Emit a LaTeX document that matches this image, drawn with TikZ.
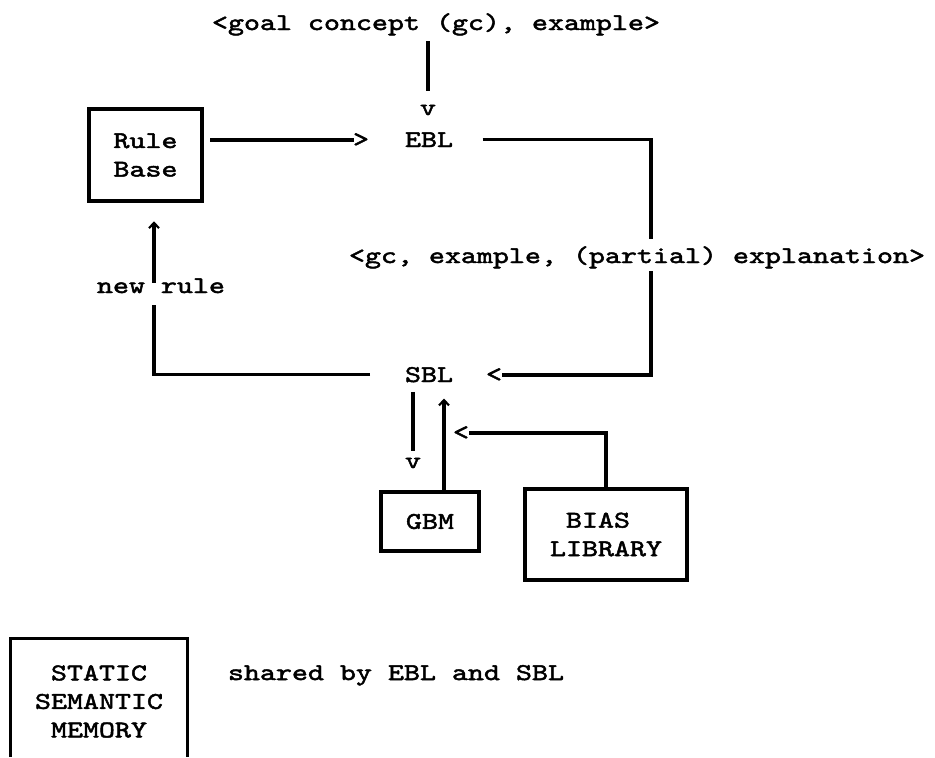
\documentclass[tikz,border=0pt]{standalone}
\usepackage{fontspec}
\newfontfamily\tw[Extension=.otf,FakeStretch=1.27,FakeBold=2]{lmmono10-regular}
\usetikzlibrary{arrows.meta}
\begin{document}
\begin{tikzpicture}[x=0.75pt,y=-0.75pt,
  every node/.style={font=\tw\fontsize{18pt}{21.4pt}\selectfont},
  txt/.style={anchor=base,inner sep=2pt},
  tchar/.style={anchor=center,inner sep=0pt},
  tbox/.style={draw,line width=2.4pt,inner sep=0pt,align=center},
  conn/.style={line width=2.3pt},
  uparr/.style={conn,-{Straight Barb[length=4pt,width=7.5pt,line width=1.6pt]}}
]
\fill[white] (0,0) rectangle (935,757);
\useasboundingbox (0,0) rectangle (935,757);
\coordinate (pb) at (0,757);

% nodes
\node[txt] (goal) at (436,30) {<goal concept (gc), example>};
\node[tchar] (vtop) at (428,110) {v};
\node[tbox, minimum width=84.75pt, minimum height=69pt] (rb) at (145.5,155) {Rule\\Base};
\node[tchar] (gt) at (361,140) {>};
\node[txt] (ebl) at (429,147) {EBL};
\node[txt] (gc) at (637,263) {<gc, example, (partial) explanation>};
\node[txt] (sbl) at (429,382) {SBL};
\node[tchar] (lt) at (494,375) {<};
\node[txt] (nr) at (161,293) {new rule};
\node[tchar] (vd) at (413,463) {v};
\node[tchar] (lb) at (461,433) {<};
\node[tbox, minimum width=73.5pt, minimum height=44.25pt] (gbm) at (430,521.5) {GBM};
\node[tbox, align=left, minimum width=121.5pt, minimum height=68.25pt] (bias) at (606,534.5) {\phantom{L}BIAS\\LIBRARY};
\node[inner sep=0pt, align=center, minimum width=132.75pt, minimum height=93.75pt] (ssm) at (99,701.5) {STATIC\\SEMANTIC\\MEMORY};
\node[txt] (shared) at (396,680) {shared by EBL and SBL};

% open box of the static semantic memory (its bottom lies below the page)
\draw[line width=2.4pt] (ssm.north west |- pb) -- (ssm.north west) -- (ssm.north east) -- (ssm.north east |- pb);

% connectors
\draw[conn, shorten <=2pt, shorten >=10pt] (goal.south -| vtop) -- (vtop.north);
\draw[conn, shorten <=5pt, shorten >=-1pt] (rb.east |- gt) -- (gt.west);
\coordinate (c1) at (651,139);
\draw[conn, shorten <=20pt, shorten >=3pt] (ebl.east) -- (ebl.east -| c1) -- (c1 |- gc.north);
\draw[conn] (gc.south -| c1) -- (c1 |- lt) -- (lt.east);
\coordinate (c2) at (154,374);
\draw[conn, shorten <=24pt, shorten >=7pt] (sbl.west) -- (sbl.west -| c2) -- (c2 |- nr.south);
\draw[uparr, shorten <=-5.5pt, shorten >=14pt] (c2 |- nr.north) -- (c2 |- rb.south);
\draw[conn, shorten <=5pt, shorten >=5pt] (sbl.south -| vd) -- (vd.north);
\draw[uparr, shorten >=10pt] ([xshift=10.5pt]gbm.north) -- ([xshift=10.5pt]gbm.north |- sbl.south);
\draw[conn] (bias.north) |- (lb.east);
\end{tikzpicture}
\end{document}
